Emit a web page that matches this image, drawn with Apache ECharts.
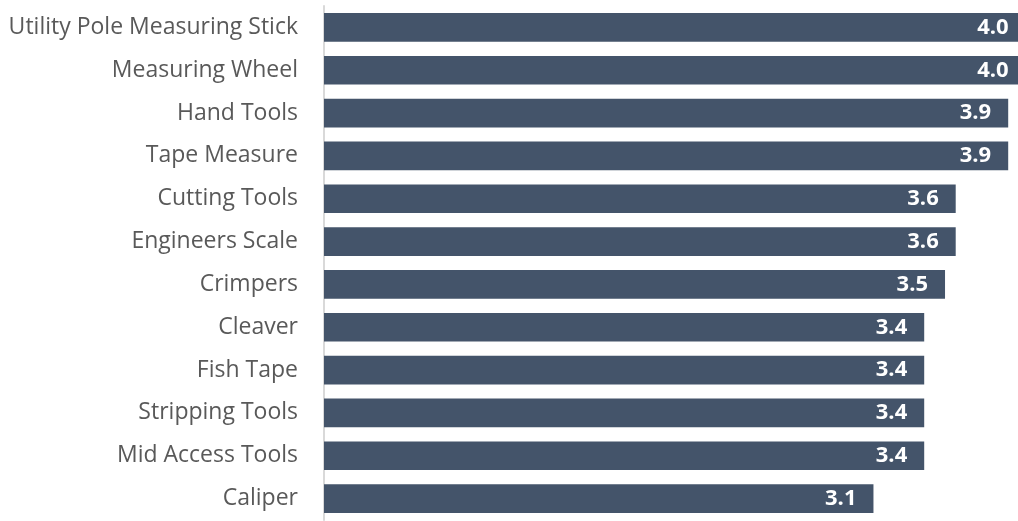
<!DOCTYPE html>
<html>
<head>
<meta charset="utf-8">
<script src="https://cdn.jsdelivr.net/npm/echarts@6/dist/echarts.min.js"></script>
<style>html,body{margin:0;padding:0;background:#fff;}#c{width:1018px;height:521px;}</style>
</head>
<body>
<div id="c"></div>
<script>
const categories = ["Utility Pole Measuring Stick","Measuring Wheel","Hand Tools","Tape Measure","Cutting Tools","Engineers Scale","Crimpers","Cleaver","Fish Tape","Stripping Tools","Mid Access Tools","Caliper"];
const values = [4.01, 4.01, 3.91, 3.91, 3.61, 3.61, 3.549, 3.43, 3.43, 3.43, 3.43, 3.14];

const chart = echarts.init(document.getElementById('c'), null, {renderer: 'canvas'});
chart.setOption({
  animation: false,
  grid: {left: 324, right: 0, top: 6, bottom: 1, containLabel: false},
  xAxis: {type: 'value', min: 0, max: 3.966, show: false},
  yAxis: {
    type: 'category', data: categories, inverse: true,
    axisLine: {show: true, lineStyle: {color: '#d9d9d9', width: 2}},
    axisTick: {show: false},
    axisLabel: {color: '#595959', fontSize: 23, fontFamily: 'Open Sans', margin: 26}
  },
  series: [{
    type: 'bar', data: values, barCategoryGap: '33%', clip: false,
    itemStyle: {color: '#44546a'},
    label: {show: true, position: 'insideRight', distance: 17, color: '#fff', fontWeight: 'bold',
      fontSize: 22, fontFamily: 'Open Sans', formatter: p => p.value.toFixed(1)}
  }]
});
</script>
</body>
</html>
